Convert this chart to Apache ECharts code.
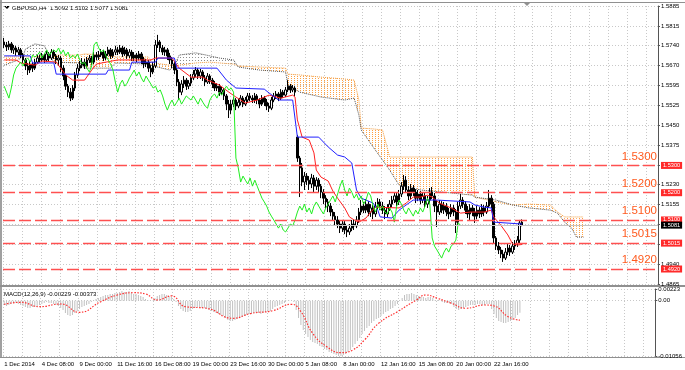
<!DOCTYPE html>
<html><head><meta charset="utf-8">
<script src="https://cdn.jsdelivr.net/npm/echarts/dist/echarts.min.js"></script>
<style>html,body{margin:0;padding:0;background:#fff}#c{width:685px;height:370px}</style>
</head><body><div id="c"></div>
<script>
// ---------------- DATA ----------------
const symbolName = 'GBPUSD,H4';
const timeLabels = ['1 Dec 2014','4 Dec 08:00','9 Dec 00:00','11 Dec 16:00','16 Dec 08:00','19 Dec 00:00','23 Dec 16:00','30 Dec 00:00','5 Jan 08:00','8 Jan 00:00','12 Jan 16:00','15 Jan 08:00','20 Jan 00:00','22 Jan 16:00'];
const priceTickLabels = ['1.4865','1.4940','','','1.5155','1.5230','','1.5375','1.5450','1.5525','1.5595','1.5670','1.5740','1.5815','1.5885'];
const priceMin = 1.4865, priceMax = 1.5885;
const macdMin = -0.01056, macdMax = 0.00223;

const opens = [1.5753,1.5742,1.5735,1.5746,1.5724,1.5731,1.5716,1.5724,1.5705,1.5687,1.5665,1.5650,1.5672,1.5657,1.5679,1.5694,
1.5687,1.5702,1.5687,1.5709,1.5694,1.5716,1.5702,1.5687,1.5694,1.5657,1.5628,1.5591,1.5569,1.5547,1.5584,1.5632,
1.5657,1.5668,1.5679,1.5665,1.5687,1.5694,1.5679,1.5705,1.5698,1.5705,1.5716,1.5694,1.5709,1.5724,1.5702,1.5716,
1.5724,1.5716,1.5731,1.5709,1.5724,1.5702,1.5716,1.5694,1.5705,1.5694,1.5709,1.5687,1.5672,1.5679,1.5657,1.5643,
1.5665,1.5742,1.5753,1.5731,1.5716,1.5724,1.5702,1.5687,1.5672,1.5650,1.5606,1.5569,1.5599,1.5613,1.5591,1.5602,
1.5621,1.5635,1.5650,1.5628,1.5643,1.5621,1.5606,1.5628,1.5613,1.5599,1.5584,1.5591,1.5569,1.5577,1.5555,1.5525,
1.5503,1.5525,1.5540,1.5518,1.5532,1.5547,1.5525,1.5540,1.5555,1.5547,1.5540,1.5555,1.5540,1.5525,1.5547,1.5532,
1.5518,1.5510,1.5540,1.5555,1.5562,1.5547,1.5569,1.5558,1.5577,1.5591,1.5577,1.5584,
1.5404,1.5327,1.5291,1.5239,1.5261,1.5246,1.5232,1.5254,1.5224,1.5246,1.5224,1.5202,
1.5180,1.5166,1.5151,1.5129,1.5114,1.5100,1.5085,1.5070,1.5085,1.5063,1.5056,1.5070,1.5085,1.5078,1.5100,1.5129,
1.5151,1.5136,1.5158,1.5129,1.5144,1.5122,1.5151,1.5166,1.5151,1.5136,1.5122,1.5144,1.5158,1.5173,1.5188,1.5166,
1.5195,1.5224,1.5246,1.5210,1.5188,1.5217,1.5202,1.5180,1.5195,1.5173,1.5188,1.5158,1.5173,1.5202,1.5188,1.5151,
1.5129,1.5158,1.5136,1.5151,1.5129,1.5122,1.5144,1.5129,1.5092,1.5151,1.5173,1.5158,1.5136,1.5122,1.5144,1.5129,
1.5114,1.5136,1.5122,1.5144,1.5129,1.5151,1.5180,1.5158,1.5034,1.5004,1.4990,1.4975,1.4960,1.4982,1.4997,1.4982,
1.5004,1.5012,1.5026,1.5092];
const closes = [1.5742,1.5735,1.5746,1.5724,1.5731,1.5716,1.5724,1.5705,1.5687,1.5665,1.5650,1.5672,1.5657,1.5679,1.5694,1.5687,
1.5702,1.5687,1.5709,1.5694,1.5716,1.5702,1.5687,1.5694,1.5657,1.5628,1.5591,1.5569,1.5547,1.5584,1.5632,1.5657,
1.5668,1.5679,1.5665,1.5687,1.5694,1.5679,1.5705,1.5698,1.5705,1.5716,1.5694,1.5709,1.5724,1.5702,1.5716,1.5724,
1.5716,1.5731,1.5709,1.5724,1.5702,1.5716,1.5694,1.5705,1.5694,1.5709,1.5687,1.5672,1.5679,1.5657,1.5643,1.5665,
1.5742,1.5753,1.5731,1.5716,1.5724,1.5702,1.5687,1.5672,1.5650,1.5606,1.5569,1.5599,1.5613,1.5591,1.5602,1.5621,
1.5635,1.5650,1.5628,1.5643,1.5621,1.5606,1.5628,1.5613,1.5599,1.5584,1.5591,1.5569,1.5577,1.5555,1.5525,1.5503,
1.5525,1.5540,1.5518,1.5532,1.5547,1.5525,1.5540,1.5555,1.5547,1.5540,1.5555,1.5540,1.5525,1.5547,1.5532,1.5518,
1.5510,1.5540,1.5555,1.5562,1.5547,1.5569,1.5558,1.5577,1.5591,1.5577,1.5584,1.5569,
1.5327,1.5291,1.5239,1.5261,1.5246,1.5232,1.5254,1.5224,1.5246,1.5224,1.5202,1.5180,
1.5166,1.5151,1.5129,1.5114,1.5100,1.5085,1.5070,1.5085,1.5063,1.5056,1.5070,1.5085,1.5078,1.5100,1.5129,1.5151,
1.5136,1.5158,1.5129,1.5144,1.5122,1.5151,1.5166,1.5151,1.5136,1.5122,1.5144,1.5158,1.5173,1.5188,1.5166,1.5195,
1.5224,1.5246,1.5210,1.5188,1.5217,1.5202,1.5180,1.5195,1.5173,1.5188,1.5158,1.5173,1.5202,1.5188,1.5151,1.5129,
1.5158,1.5136,1.5151,1.5129,1.5122,1.5144,1.5129,1.5092,1.5151,1.5173,1.5158,1.5136,1.5122,1.5144,1.5129,1.5114,
1.5136,1.5122,1.5144,1.5129,1.5151,1.5180,1.5158,1.5034,1.5004,1.4990,1.4975,1.4960,1.4982,1.4997,1.4982,1.5004,
1.5012,1.5026,1.5089,1.5081];
const highs = [1.5768,1.5753,1.5757,1.5753,1.5742,1.5739,1.5735,1.5731,1.5713,1.5694,1.5676,1.5683,1.5679,1.5691,1.5705,1.5705,
1.5713,1.5709,1.5720,1.5716,1.5727,1.5724,1.5709,1.5705,1.5702,1.5668,1.5635,1.5599,1.5584,1.5595,1.5643,1.5672,
1.5683,1.5694,1.5691,1.5698,1.5705,1.5702,1.5716,1.5716,1.5720,1.5727,1.5724,1.5720,1.5735,1.5731,1.5727,1.5739,
1.5735,1.5742,1.5739,1.5735,1.5731,1.5727,1.5724,1.5716,1.5713,1.5720,1.5716,1.5698,1.5691,1.5687,1.5668,1.5679,
1.5760,1.5779,1.5760,1.5742,1.5735,1.5731,1.5713,1.5698,1.5679,1.5657,1.5617,1.5613,1.5628,1.5621,1.5613,1.5635,
1.5650,1.5661,1.5657,1.5654,1.5650,1.5632,1.5639,1.5635,1.5621,1.5610,1.5602,1.5599,1.5588,1.5584,1.5562,1.5540,
1.5540,1.5551,1.5547,1.5544,1.5558,1.5555,1.5551,1.5566,1.5566,1.5558,1.5566,1.5562,1.5547,1.5558,1.5555,1.5544,
1.5529,1.5551,1.5566,1.5573,1.5569,1.5580,1.5577,1.5588,1.5613,1.5599,1.5595,1.5591,
1.5412,1.5335,1.5309,1.5276,1.5272,1.5261,1.5269,1.5265,1.5257,1.5254,1.5232,1.5213,
1.5191,1.5177,1.5162,1.5140,1.5129,1.5114,1.5100,1.5100,1.5096,1.5078,1.5085,1.5100,1.5100,1.5114,1.5144,1.5173,
1.5166,1.5177,1.5169,1.5158,1.5155,1.5166,1.5180,1.5177,1.5166,1.5151,1.5158,1.5173,1.5188,1.5202,1.5199,1.5210,
1.5239,1.5265,1.5261,1.5224,1.5232,1.5228,1.5213,1.5210,1.5206,1.5202,1.5199,1.5188,1.5217,1.5221,1.5199,1.5173,
1.5173,1.5169,1.5166,1.5162,1.5144,1.5158,1.5155,1.5140,1.5166,1.5195,1.5184,1.5169,1.5151,1.5158,1.5155,1.5144,
1.5151,1.5147,1.5158,1.5155,1.5166,1.5210,1.5191,1.5166,1.5041,1.5019,1.5001,1.4990,1.4997,1.5012,1.5008,1.5019,
1.5026,1.5041,1.5100,1.5102];
const lows = [1.5731,1.5720,1.5724,1.5713,1.5709,1.5702,1.5705,1.5694,1.5676,1.5650,1.5632,1.5639,1.5643,1.5650,1.5672,1.5676,
1.5679,1.5676,1.5679,1.5683,1.5687,1.5691,1.5672,1.5665,1.5643,1.5613,1.5577,1.5551,1.5536,1.5540,1.5573,1.5621,
1.5646,1.5657,1.5654,1.5657,1.5676,1.5668,1.5672,1.5687,1.5687,1.5698,1.5683,1.5687,1.5702,1.5691,1.5694,1.5705,
1.5705,1.5709,1.5698,1.5702,1.5691,1.5694,1.5683,1.5683,1.5679,1.5687,1.5672,1.5657,1.5661,1.5643,1.5624,1.5635,
1.5657,1.5731,1.5716,1.5705,1.5702,1.5687,1.5672,1.5657,1.5635,1.5591,1.5540,1.5558,1.5584,1.5577,1.5580,1.5591,
1.5613,1.5624,1.5617,1.5617,1.5610,1.5591,1.5599,1.5599,1.5584,1.5573,1.5573,1.5555,1.5558,1.5540,1.5503,1.5474,
1.5489,1.5514,1.5503,1.5510,1.5521,1.5514,1.5518,1.5532,1.5536,1.5529,1.5529,1.5525,1.5510,1.5518,1.5518,1.5503,
1.5496,1.5503,1.5532,1.5544,1.5536,1.5540,1.5547,1.5551,1.5569,1.5566,1.5569,1.5555,
1.5313,1.5184,1.5224,1.5210,1.5228,1.5210,1.5217,1.5202,1.5210,1.5202,1.5180,1.5158,
1.5144,1.5129,1.5114,1.5100,1.5078,1.5070,1.5052,1.5056,1.5048,1.5037,1.5045,1.5059,1.5063,1.5070,1.5089,1.5118,
1.5125,1.5125,1.5114,1.5111,1.5103,1.5111,1.5140,1.5136,1.5122,1.5103,1.5111,1.5133,1.5147,1.5162,1.5151,1.5155,
1.5184,1.5210,1.5199,1.5173,1.5177,1.5188,1.5162,1.5169,1.5158,1.5162,1.5147,1.5144,1.5162,1.5177,1.5129,1.5074,
1.5118,1.5125,1.5122,1.5114,1.5103,1.5111,1.5114,1.5052,1.5081,1.5140,1.5144,1.5122,1.5107,1.5100,1.5114,1.5089,
1.5103,1.5107,1.5111,1.5114,1.5122,1.5144,1.5144,1.5015,1.4990,1.4975,1.4960,1.4946,1.4953,1.4971,1.4968,1.4975,
1.4990,1.5001,1.5015,1.5077];

// Ichimoku lines: [bar index, price]
const tenkan = [[0,1.5687],[5,1.5687],[7,1.5676],[13,1.5668],[16,1.5683],[22,1.5679],[26,1.5632],[29,1.5613],[34,1.5613],[37,1.5650],[39,1.5672],[43,1.5679],[48,1.5687],[62,1.5687],[64,1.5694],[71,1.5694],[74,1.5657],[79,1.5624],[84,1.5624],[86,1.5613],[91,1.5595],[95,1.5569],[98,1.5551],[102,1.5529],[107,1.5540],[112,1.5558],[117,1.5547],[122,1.5558],[123,1.5551],[124,1.5467],[126,1.5404],[129,1.5393],[131,1.5346],[132,1.5283],[134,1.5257],[137,1.5243],[139,1.5206],[141,1.5180],[144,1.5144],[146,1.5111],[148,1.5100],[150,1.5092],[153,1.5107],[155,1.5129],[157,1.5147],[167,1.5144],[170,1.5162],[173,1.5184],[176,1.5184],[179,1.5191],[181,1.5184],[184,1.5162],[189,1.5144],[193,1.5125],[197,1.5129],[203,1.5129],[206,1.5136],[207,1.5111],[210,1.5081],[213,1.5045],[215,1.5012],[217,1.5008],[219,1.5010]];
const kijun = [[0,1.5702],[11,1.5702],[12,1.5676],[21,1.5676],[22,1.5635],[43,1.5635],[44,1.5650],[53,1.5650],[54,1.5679],[64,1.5679],[65,1.5694],[72,1.5694],[73,1.5657],[90,1.5657],[94,1.5613],[98,1.5584],[110,1.5580],[112,1.5566],[116,1.5540],[122,1.5540],[124,1.5404],[133,1.5404],[137,1.5368],[141,1.5338],[144,1.5331],[147,1.5309],[149,1.5210],[151,1.5180],[156,1.5162],[158,1.5136],[159,1.5111],[164,1.5107],[167,1.5136],[170,1.5155],[173,1.5173],[183,1.5173],[197,1.5166],[199,1.5155],[203,1.5147],[206,1.5144],[207,1.5092],[219,1.5085]];
const chikou = [1.5591,1.5569,1.5547,1.5584,1.5632,1.5657,
1.5668,1.5679,1.5665,1.5687,1.5694,1.5679,1.5705,1.5698,1.5705,1.5716,1.5694,1.5709,1.5724,1.5702,1.5716,1.5724,
1.5716,1.5731,1.5709,1.5724,1.5702,1.5716,1.5694,1.5705,1.5694,1.5709,1.5687,1.5672,1.5679,1.5657,1.5643,1.5665,
1.5742,1.5753,1.5731,1.5716,1.5724,1.5702,1.5687,1.5672,1.5650,1.5606,1.5569,1.5599,1.5613,1.5591,1.5602,1.5621,
1.5635,1.5650,1.5628,1.5643,1.5621,1.5606,1.5628,1.5613,1.5599,1.5584,1.5591,1.5569,1.5577,1.5555,1.5525,1.5503,
1.5525,1.5540,1.5518,1.5532,1.5547,1.5525,1.5540,1.5555,1.5547,1.5540,1.5555,1.5540,1.5525,1.5547,1.5532,1.5518,
1.5510,1.5540,1.5555,1.5562,1.5547,1.5569,1.5558,1.5577,1.5591,1.5577,1.5584,1.5569,
1.5327,1.5291,1.5239,1.5261,1.5246,1.5232,1.5254,1.5224,1.5246,1.5224,1.5202,1.5180,
1.5166,1.5151,1.5129,1.5114,1.5100,1.5085,1.5070,1.5085,1.5063,1.5056,1.5070,1.5085,1.5078,1.5100,1.5129,1.5151,
1.5136,1.5158,1.5129,1.5144,1.5122,1.5151,1.5166,1.5151,1.5136,1.5122,1.5144,1.5158,1.5173,1.5188,1.5166,1.5195,
1.5224,1.5246,1.5210,1.5188,1.5217,1.5202,1.5180,1.5195,1.5173,1.5188,1.5158,1.5173,1.5202,1.5188,1.5151,1.5129,
1.5158,1.5136,1.5151,1.5129,1.5122,1.5144,1.5129,1.5092,1.5151,1.5173,1.5158,1.5136,1.5122,1.5144,1.5129,1.5114,
1.5136,1.5122,1.5144,1.5129,1.5151,1.5180,1.5158,1.5034,1.5004,1.4990,1.4975,1.4960,1.4982,1.4997,1.4982,1.5004,
1.5012,1.5026,1.5089,1.5081];
// Kumo (cloud) edges, shifted 26 bars forward
const kumoIdx = [0,6,8,9,13,17,19,21,32,34,45,47,61,63,70,72,74,81,87,91,97,99,108,119,120,125,134,144,148,150,151,156,160,163,167,176,189,198,199,208,215,222,231,234,237,240,242,245];
const senkouA = [1.5698,1.5698,1.5702,1.5698,1.5698,1.5702,1.5705,1.5705,1.5705,1.5709,1.5705,1.5698,1.5698,1.5676,1.5668,1.5665,1.5668,1.5676,1.5679,1.5676,1.5672,1.5665,1.5661,1.5657,1.5635,1.5632,1.5624,1.5617,1.5613,1.5540,1.5437,1.5434,1.5430,1.5331,1.5331,1.5331,1.5331,1.5331,1.5184,1.5166,1.5155,1.5158,1.5155,1.5129,1.5111,1.5111,1.5111,1.5111];
const senkouB = [1.5668,1.5687,1.5702,1.5727,1.5746,1.5739,1.5705,1.5679,1.5676,1.5657,1.5657,1.5676,1.5672,1.5665,1.5650,1.5665,1.5705,1.5713,1.5702,1.5694,1.5687,1.5661,1.5650,1.5643,1.5595,1.5569,1.5551,1.5540,1.5547,1.5485,1.5430,1.5368,1.5320,1.5283,1.5228,1.5210,1.5199,1.5191,1.5184,1.5173,1.5155,1.5144,1.5136,1.5125,1.5092,1.5070,1.5037,1.5037];

// MACD(12,26,9)
const macdHist = [-0.00082,-0.00102,-0.00082,-0.00063,-0.00044,-0.00044,-0.00063,-0.00082,
-0.00102,-0.00121,-0.00140,-0.00140,-0.00121,-0.00121,-0.00102,-0.00082,
-0.00063,-0.00044,-0.00025,-0.00044,-0.00044,-0.00063,-0.00082,-0.00102,
-0.00140,-0.00178,-0.00235,-0.00273,-0.00292,-0.00273,-0.00235,-0.00197,
-0.00159,-0.00121,-0.00102,-0.00082,-0.00063,-0.00025,0.00013,0.00032,
0.00051,0.00070,0.00089,0.00108,0.00108,0.00128,0.00128,0.00147,
0.00147,0.00166,0.00185,0.00166,0.00166,0.00185,0.00147,0.00128,
0.00128,0.00108,0.00089,0.00070,0.00032,0.00013,-0.00006,-0.00006,
0.00051,0.00089,0.00108,0.00128,0.00128,0.00108,0.00089,0.00070,
0.00032,-0.00025,-0.00102,-0.00159,-0.00197,-0.00216,-0.00216,-0.00197,
-0.00159,-0.00140,-0.00121,-0.00121,-0.00140,-0.00140,-0.00159,-0.00178,
-0.00197,-0.00216,-0.00235,-0.00254,-0.00273,-0.00292,-0.00331,-0.00369,
-0.00388,-0.00388,-0.00369,-0.00350,-0.00331,-0.00312,-0.00292,-0.00273,
-0.00254,-0.00254,-0.00235,-0.00235,-0.00235,-0.00254,-0.00235,-0.00216,
-0.00216,-0.00197,-0.00159,-0.00121,-0.00102,-0.00082,-0.00063,-0.00044,
-0.00006,-0.00006,-0.00006,-0.00025,-0.00178,-0.00331,-0.00464,-0.00560,
-0.00636,-0.00693,-0.00751,-0.00789,-0.00808,-0.00827,-0.00865,-0.00884,
-0.00922,-0.00941,-0.00980,-0.00999,-0.01018,-0.01037,-0.01056,-0.01056,
-0.01037,-0.01018,-0.00980,-0.00941,-0.00884,-0.00827,-0.00770,-0.00712,
-0.00636,-0.00579,-0.00522,-0.00483,-0.00426,-0.00388,-0.00350,-0.00331,
-0.00292,-0.00254,-0.00216,-0.00197,-0.00159,-0.00140,-0.00102,-0.00063,
-0.00006,0.00051,0.00108,0.00128,0.00128,0.00147,0.00128,0.00108,
0.00089,0.00070,0.00070,0.00051,0.00070,0.00070,0.00051,0.00013,
0.00013,-0.00006,-0.00025,-0.00044,-0.00044,-0.00044,-0.00063,-0.00121,
-0.00159,-0.00178,-0.00159,-0.00140,-0.00121,-0.00102,-0.00082,-0.00082,
-0.00082,-0.00063,-0.00063,-0.00082,-0.00082,-0.00063,-0.00063,-0.00159,
-0.00254,-0.00331,-0.00388,-0.00407,-0.00426,-0.00426,-0.00407,-0.00388,
-0.00369,-0.00331,-0.00273,-0.00229];
const macdSignal = [[0,-0.00069],[7,-0.00031],[15,-0.00115],[24,-0.00063],[32,-0.00222],[41,-0.00020],[48,0.00108],[55,0.00152],[60,0.00128],[65,0.00013],[71,0.00091],[77,-0.00115],[86,-0.00145],[97,-0.00336],[105,-0.00241],[114,-0.00191],[122,-0.00069],[126,-0.00210],[131,-0.00623],[137,-0.00878],[143,-0.00993],[148,-0.00941],[153,-0.00751],[159,-0.00432],[167,-0.00210],[175,0.00013],[179,0.00108],[184,0.00045],[190,-0.00050],[196,-0.00145],[204,-0.00082],[208,-0.00101],[214,-0.00306],[219,-0.00373]];

// Horizontal levels drawn on the chart
const levelValues = [1.5300, 1.5200, 1.5100, 1.5015, 1.4920];

// ---------------- CHART ----------------
const SLOTS = 277;
const cats = Array.from({length: SLOTS}, (_, i) => String(i));
const last = closes.length - 1;
const FONT = "'Liberation Sans', Arial, sans-serif";
const FS = 6;

function dotPattern(color, w, h) {
  const c = document.createElement('canvas');
  c.width = w; c.height = h;
  const g = c.getContext('2d');
  g.fillStyle = color;
  g.fillRect(0, 0, 1, 1);
  return { image: c, repeat: 'repeat' };
}
const upFill = dotPattern('#ffa040', 3, 2);
const dnFill = dotPattern('#8c8c8c', 3, 3);

const candleData = opens.map((o, i) => [o, closes[i], lows[i], highs[i]]);
const kumoData = kumoIdx.map((x, k) => [x, senkouA[k], senkouB[k]]);

function kumoRender(params, api) {
  const k = params.dataIndex;
  if (k >= kumoIdx.length - 1) return;
  const x0 = kumoIdx[k], x1 = kumoIdx[k + 1];
  const a0 = senkouA[k], a1 = senkouA[k + 1], b0 = senkouB[k], b1 = senkouB[k + 1];
  const d0 = a0 - b0, d1 = a1 - b1;
  const P = (x, y) => api.coord([x, y]);
  const children = [];
  if (d0 * d1 >= 0) {
    children.push({ type: 'polygon', shape: { points: [P(x0, a0), P(x1, a1), P(x1, b1), P(x0, b0)] },
      style: { fill: (d0 + d1) >= 0 ? upFill : dnFill } });
  } else {
    const t = d0 / (d0 - d1);
    const xc = x0 + t * (x1 - x0), yc = a0 + t * (a1 - a0);
    children.push({ type: 'polygon', shape: { points: [P(x0, a0), P(xc, yc), P(x0, b0)] }, style: { fill: d0 > 0 ? upFill : dnFill } });
    children.push({ type: 'polygon', shape: { points: [P(xc, yc), P(x1, a1), P(x1, b1)] }, style: { fill: d1 > 0 ? upFill : dnFill } });
  }
  return { type: 'group', children };
}

const gridDot = { show: true, lineStyle: { color: '#c8c8c8', type: [1, 2], width: 1 } };
const boxLabel = (bg) => ({ show: true, position: 'end', formatter: (p) => Number(p.value).toFixed(4), color: '#fff',
  backgroundColor: bg, fontSize: 5.6, fontFamily: FONT, padding: [1, 2, 0, 2], distance: 3 });

const chart = echarts.init(document.getElementById('c'), null, { renderer: 'canvas' });
chart.setOption({
  animation: false,
  backgroundColor: '#ffffff',
  grid: [
    { left: 3, right: 27, top: 6, height: 278 },
    { left: 3, right: 27, top: 289, height: 67 }
  ],
  xAxis: [
    { type: 'category', gridIndex: 0, data: cats, boundaryGap: true,
      axisLine: { show: false }, axisTick: { show: false }, axisLabel: { show: false },
      splitLine: { ...gridDot, interval: (i) => i % 8 === 0 } },
    { type: 'category', gridIndex: 1, data: cats, boundaryGap: true,
      axisLine: { show: false }, axisTick: { show: false },
      axisLabel: { show: true, interval: (i) => i % 16 === 0, align: 'left', margin: 5,
        formatter: (v, i) => (i % 16 === 0 && timeLabels[i / 16]) ? timeLabels[i / 16] : '',
        fontSize: FS, color: '#000', fontFamily: FONT },
      splitLine: { ...gridDot, interval: (i) => i % 8 === 0 } }
  ],
  yAxis: [
    { type: 'value', gridIndex: 0, min: priceMin, max: priceMax, show: false, splitLine: { show: false } },
    { type: 'value', gridIndex: 0, min: 0, max: priceTickLabels.length - 1, interval: 1, position: 'right',
      axisLine: { show: true, lineStyle: { color: '#555', width: 1 } },
      axisTick: { show: true, length: 2, lineStyle: { color: '#555' } },
      axisLabel: { formatter: (v) => priceTickLabels[Math.round(v)], fontSize: FS, color: '#000', margin: 3, fontFamily: FONT },
      splitLine: gridDot },
    { type: 'value', gridIndex: 1, min: macdMin, max: macdMax, interval: -macdMin, position: 'right',
      axisLine: { show: true, lineStyle: { color: '#555', width: 1 } },
      axisTick: { show: true, length: 2, lineStyle: { color: '#555' } },
      axisLabel: { formatter: (v) => Math.abs(v) < 1e-9 ? '0.00' : v.toFixed(5), fontSize: FS, color: '#000', margin: 3, fontFamily: FONT },
      splitLine: gridDot }
  ],
  series: [
    { type: 'custom', name: 'kumo', xAxisIndex: 0, yAxisIndex: 0, renderItem: kumoRender,
      data: kumoData, encode: { x: 0, y: [1, 2] }, z: 1, silent: true },
    { type: 'line', name: 'SenkouA', xAxisIndex: 0, yAxisIndex: 0, data: kumoIdx.map((x, k) => [x, senkouA[k]]),
      symbol: 'none', lineStyle: { color: '#f39a3a', width: 1, type: [1, 1] }, z: 2, silent: true },
    { type: 'line', name: 'SenkouB', xAxisIndex: 0, yAxisIndex: 0, data: kumoIdx.map((x, k) => [x, senkouB[k]]),
      symbol: 'none', lineStyle: { color: '#505050', width: 1, type: [1, 1] }, z: 2, silent: true },
    { type: 'candlestick', name: symbolName, xAxisIndex: 0, yAxisIndex: 0, data: candleData, barWidth: 2,
      itemStyle: { color: '#ffffff', color0: '#000000', borderColor: '#000000', borderColor0: '#000000', borderWidth: 1 },
      z: 3, silent: true,
      markLine: { silent: true, symbol: 'none', animation: false, precision: 4,
        lineStyle: { color: '#ff5050', type: [12, 4], width: 1.4 },
        label: { show: true, position: 'insideEndTop', formatter: (p) => Number(p.value).toFixed(4),
          color: '#ff5a1e', fontSize: 11.5, fontFamily: FONT, distance: [1, 3] },
        data: levelValues.map(v => ({ yAxis: v })) } },
    { type: 'line', name: 'Tenkan', xAxisIndex: 0, yAxisIndex: 0, data: tenkan, symbol: 'none',
      lineStyle: { color: '#ff2020', width: 1 }, z: 4, silent: true,
      markLine: { silent: true, symbol: 'none', animation: false, precision: 4,
        lineStyle: { width: 0, color: 'rgba(0,0,0,0)' },
        label: boxLabel('#ff2a2a'),
        data: levelValues.map(v => ({ yAxis: v })) } },
    { type: 'line', name: 'Kijun', xAxisIndex: 0, yAxisIndex: 0, data: kijun, symbol: 'none',
      lineStyle: { color: '#2020ff', width: 1 }, z: 4, silent: true,
      markLine: { silent: true, symbol: 'none', animation: false, precision: 4,
        lineStyle: { color: '#c4c4c4', type: 'solid', width: 1 },
        label: boxLabel('#000000'),
        data: [{ yAxis: closes[last] }] } },
    { type: 'line', name: 'Chikou', xAxisIndex: 0, yAxisIndex: 0, data: chikou, symbol: 'none',
      lineStyle: { color: '#20ee20', width: 1 }, z: 4, silent: true },
    { type: 'bar', name: 'MACD', xAxisIndex: 1, yAxisIndex: 2, data: macdHist, barWidth: 1,
      itemStyle: { color: '#c0c0c0' }, silent: true },
    { type: 'line', name: 'Signal', xAxisIndex: 1, yAxisIndex: 2, data: macdSignal, symbol: 'none', smooth: 0.5,
      lineStyle: { color: '#ff3030', width: 1.2, type: [1.5, 1.5] }, z: 4, silent: true }
  ],
  graphic: [
    { type: 'rect', shape: { x: 0, y: 0, width: 2, height: 358 }, style: { fill: '#a0a0a0' }, silent: true },
    { type: 'line', shape: { x1: 0, y1: 2.5, x2: 685, y2: 2.5 }, style: { stroke: '#909090', lineWidth: 1 }, silent: true },
    { type: 'rect', shape: { x: 0, y: 285, width: 685, height: 2 }, style: { fill: '#909090' }, silent: true },
    { type: 'line', shape: { x1: 0, y1: 357.5, x2: 685, y2: 357.5 }, style: { stroke: '#909090', lineWidth: 1 }, silent: true },
    { type: 'polygon', shape: { points: [[4, 6], [10, 6], [7, 9]] }, style: { fill: '#000' }, silent: true },
    { type: 'text', left: 12, top: 5, style: { text: symbolName + '  ' + [opens[last], highs[last], lows[last], closes[last]].map(v => v.toFixed(4)).join(' '),
      fontSize: FS, fill: '#000', fontFamily: FONT }, silent: true },
    { type: 'text', left: 4, top: 291, style: { text: 'MACD(12,26,9) ' + macdHist[last].toFixed(5) + ' ' + macdSignal[macdSignal.length - 1][1].toFixed(5),
      fontSize: FS, fill: '#000', fontFamily: FONT }, silent: true },
    { type: 'polygon', shape: { points: [[524, 3], [530, 3], [527, 6]] }, style: { fill: '#909090' }, silent: true }
  ]
});
</script></body></html>
